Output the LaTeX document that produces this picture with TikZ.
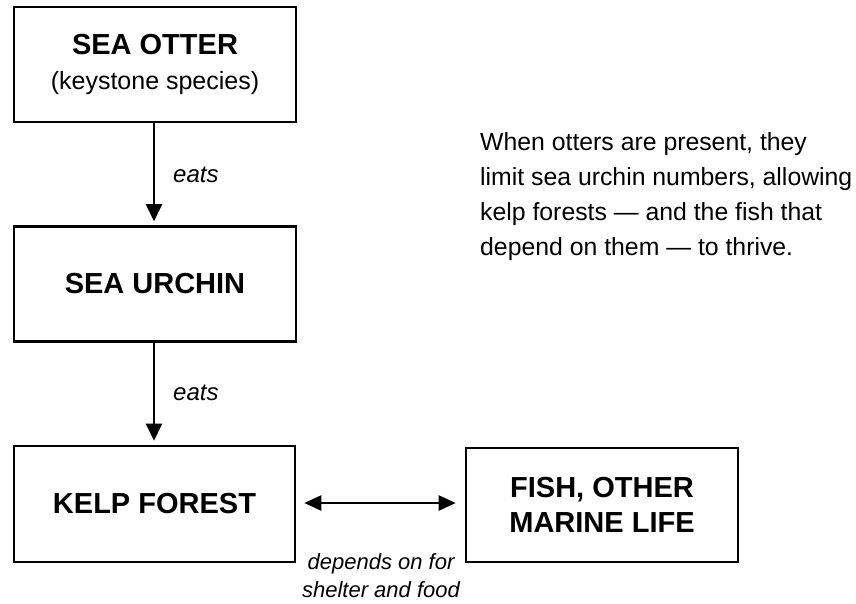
\documentclass[tikz,border=0pt]{standalone}
\usepackage{fontspec}
\setmainfont{Liberation Sans}
\usetikzlibrary{arrows.meta}
\tikzset{
  box/.style={draw=black, line width=2.6pt, rectangle, inner sep=0pt, align=center,
    font=\fontsize{29}{35}\selectfont\bfseries},
  flow/.style={line width=2.4pt, -{Triangle[length=17pt,width=16pt]}},
  both/.style={line width=2.4pt, {Triangle[length=17pt,width=15pt]}-{Triangle[length=17pt,width=15pt]}},
  lab/.style={font=\fontsize{24}{28}\selectfont\itshape, inner sep=0pt},
  note/.style={font=\fontsize{24.8}{35}\selectfont, inner sep=0pt, align=left},
}
\begin{document}
\begin{tikzpicture}[x=1pt,y=-1pt]
\useasboundingbox[fill=white] (0,0) rectangle (856,603);
\node[box, minimum width=282pt, minimum height=115pt] (otter) at (155,64.5)
  {SEA OTTER\\[0pt]{\fontsize{25}{32}\selectfont\mdseries (keystone species)}};
\node[box, minimum width=282pt, minimum height=115pt] (urchin) at (155,284) {SEA URCHIN};
\node[box, minimum width=281pt, minimum height=116pt] (kelp) at (154.5,504) {KELP FOREST};
\node[box, minimum width=272pt, minimum height=114pt] (fish) at (602,505) {FISH, OTHER\\MARINE LIFE};
\draw[flow, shorten >=4pt] ([xshift=-1pt]otter.south) -- ([xshift=-1pt]urchin.north);
\draw[flow, shorten >=4pt] ([xshift=-1pt]urchin.south) -- ([xshift=-0.5pt]kelp.north);
\draw[both, shorten <=8pt, shorten >=9pt] ([yshift=1pt]kelp.east) -- ([yshift=2pt]fish.west);
\node[lab, anchor=base west] (eats1) at (173,182) {eats};
\node[lab, anchor=base west] (eats2) at (173,400) {eats};
\node[lab, anchor=north, align=center, font=\fontsize{22}{28}\selectfont\itshape] (dep) at (381,553) {depends on for\\shelter and food};
\node[note, anchor=north west] (txt) at (480,132) {When otters are present, they\\limit sea urchin numbers, allowing\\kelp forests --- and the fish that\\depend on them --- to thrive.};
\end{tikzpicture}
\end{document}
